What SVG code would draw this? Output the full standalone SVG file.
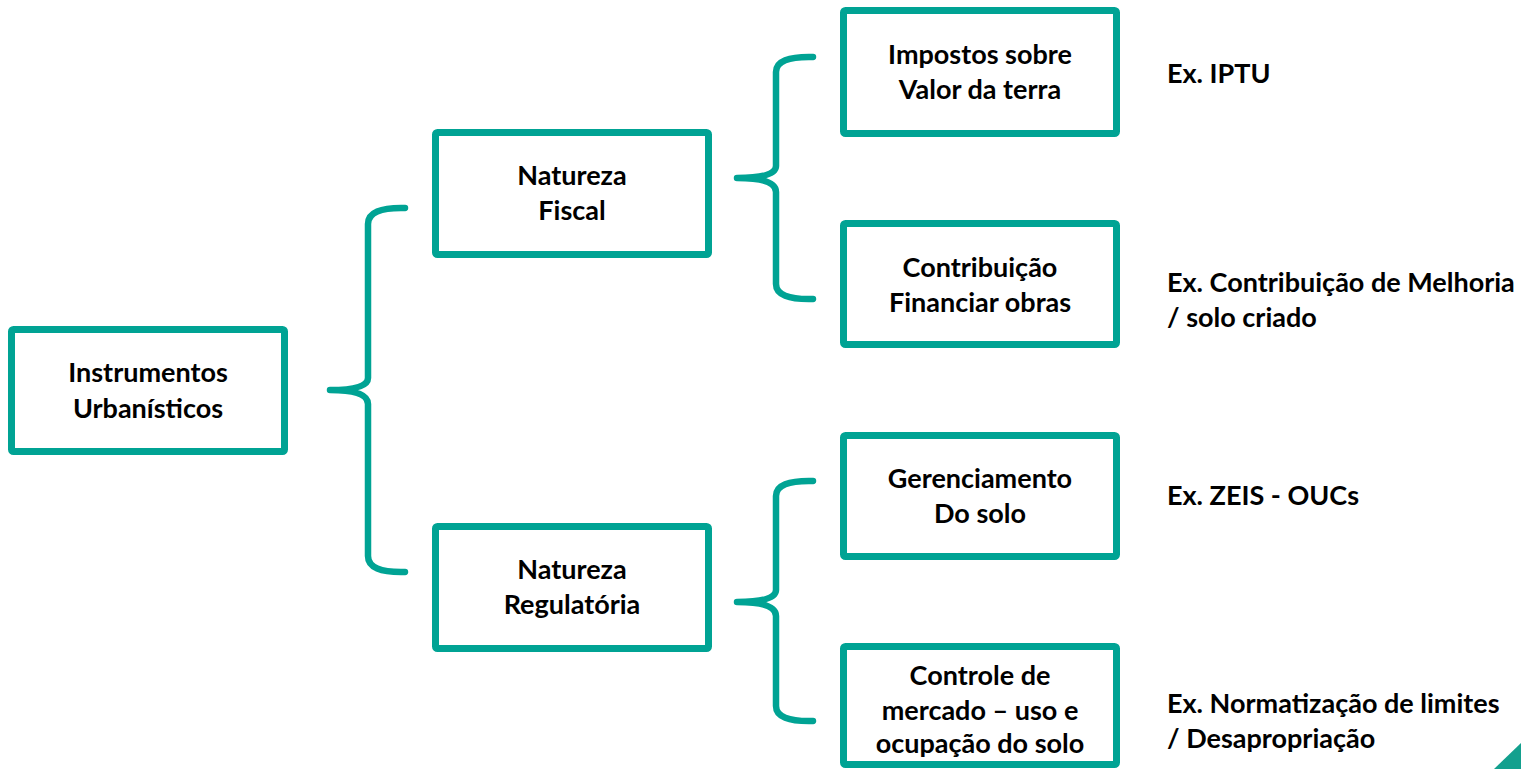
<svg xmlns="http://www.w3.org/2000/svg" width="1521" height="769" viewBox="0 0 1521 769">
<style>
.box{fill:#fff;stroke:#00A394;stroke-width:7;}
.br{fill:none;stroke:#00A394;stroke-width:6.5;stroke-linecap:round;stroke-linejoin:round;}
text{font-family:Lato,"Open Sans","Liberation Sans",sans-serif;font-weight:bold;font-size:27px;fill:#000;}
.c{text-anchor:middle;}
</style>
<rect width="1521" height="769" fill="#fff"/>
<g id="connectors">
<path class="br" d="M405,208 Q368,207 368,224 L368,378 Q368,390 330,390 Q368,390 368,404 L368,556 Q368,573 405,572"/>
<path class="br" d="M813,57 Q776,56 776,72 L776,166 Q776,178 737,178 Q776,178 776,192 L776,284 Q776,300 813,299"/>
<path class="br" d="M813,481 Q776,480 776,496 L776,590 Q776,602 737,602 Q776,602 776,616 L776,706 Q776,722 813,721"/>
</g>
<g id="n-instrumentos">
<rect class="box" x="11.5" y="329.5" width="273" height="122" rx="2"/>
<text class="c" x="148" y="382">Instrumentos</text>
<text class="c" x="148" y="418">Urbanísticos</text>
</g>
<g id="n-fiscal">
<rect class="box" x="435.5" y="132.5" width="273" height="122" rx="2"/>
<text class="c" x="572" y="185">Natureza</text>
<text class="c" x="572" y="220">Fiscal</text>
</g>
<g id="n-regulatoria">
<rect class="box" x="435.5" y="526.5" width="273" height="122" rx="2"/>
<text class="c" x="572" y="579">Natureza</text>
<text class="c" x="572" y="614">Regulatória</text>
</g>
<g id="n-impostos">
<rect class="box" x="843.5" y="10.5" width="273" height="123" rx="2"/>
<text class="c" x="980" y="64">Impostos sobre</text>
<text class="c" x="980" y="99">Valor da terra</text>
</g>
<g id="n-contribuicao">
<rect class="box" x="843.5" y="223.5" width="273" height="121" rx="2"/>
<text class="c" x="980" y="277">Contribuição</text>
<text class="c" x="980" y="312">Financiar obras</text>
</g>
<g id="n-gerenciamento">
<rect class="box" x="843.5" y="435.5" width="273" height="121" rx="2"/>
<text class="c" x="980" y="488">Gerenciamento</text>
<text class="c" x="980" y="523">Do solo</text>
</g>
<g id="n-controle">
<rect class="box" x="843.5" y="646.5" width="273" height="118" rx="2"/>
<text class="c" x="980" y="685">Controle de</text>
<text class="c" x="980" y="720">mercado – uso e</text>
<text class="c" x="980" y="753">ocupação do solo</text>
</g>
<g id="examples">
<text x="1167" y="83">Ex. IPTU</text>
<text x="1167" y="292">Ex. Contribuição de Melhoria</text>
<text x="1167" y="327">/ solo criado</text>
<text x="1167" y="505">Ex. ZEIS - OUCs</text>
<text x="1167" y="713">Ex. Normatização de limites</text>
<text x="1167" y="748">/ Desapropriação</text>
</g>
<polygon points="1494,769 1521,743 1521,769" fill="#13A08E"/>
</svg>
